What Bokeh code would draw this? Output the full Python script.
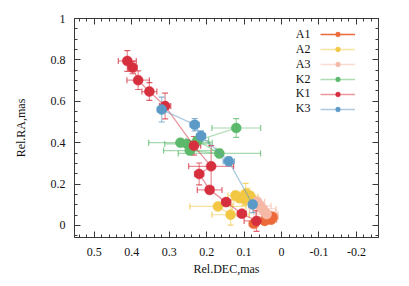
import numpy as np
from bokeh.plotting import figure
from bokeh.models import (ColumnDataSource, Whisker, TeeHead, Range1d, FixedTicker,
                          LinearAxis, Legend, LegendItem, Label, CustomLabelingPolicy)
from bokeh.core.properties import value
from bokeh.embed import file_html
from bokeh.resources import INLINE

# ---------------- data (Rel.DEC, Rel.RA in mas, with errors) ----------------
series_names = ["A1", "A2", "A3", "K2", "K1", "K3"]
series_colors = ["#ec6a3a", "#f2c744", "#f5b9a6", "#5cb96b", "#d6303f", "#5b99c6"]

a1_dec = [0.074, 0.045, 0.038, 0.030, 0.025, 0.033, 0.028]
a1_ra = [0.008, 0.022, 0.030, 0.038, 0.042, 0.045, 0.028]
a1_dec_err = [0.012, 0.020, 0.020, 0.015, 0.015, 0.020, 0.015]
a1_ra_err = [0.010, 0.010, 0.010, 0.010, 0.010, 0.010, 0.010]

a2_dec = [0.170, 0.136, 0.123, 0.112, 0.100, 0.090, 0.083, 0.096]
a2_ra = [0.092, 0.052, 0.145, 0.132, 0.128, 0.150, 0.140, 0.153]
a2_dec_err = [0.075, 0.050, 0.020, 0.020, 0.020, 0.015, 0.020, 0.015]
a2_ra_err = [0.010, 0.050, 0.020, 0.020, 0.030, 0.030, 0.020, 0.050]

a3_dec = [0.065, 0.058, 0.050, 0.045, 0.040]
a3_ra = [0.115, 0.095, 0.080, 0.065, 0.055]
a3_dec_err = [0.020, 0.030, 0.035, 0.030, 0.030]
a3_ra_err = [0.020, 0.020, 0.015, 0.015, 0.010]

k2_dec = [0.270, 0.252, 0.245, 0.166, 0.225, 0.121]
k2_ra = [0.400, 0.394, 0.362, 0.348, 0.410, 0.471]
k2_dec_err = [0.085, 0.060, 0.070, 0.110, 0.030, 0.065]
k2_ra_err = [0.015, 0.015, 0.020, 0.020, 0.020, 0.045]

k1_dec = [0.412, 0.398, 0.383, 0.353, 0.311, 0.234, 0.188, 0.220, 0.192, 0.148, 0.106, 0.067]
k1_ra = [0.795, 0.763, 0.702, 0.647, 0.577, 0.385, 0.286, 0.249, 0.172, 0.113, 0.057, 0.022]
k1_dec_err = [0.024, 0.012, 0.030, 0.020, 0.015, 0.018, 0.060, 0.012, 0.033, 0.012, 0.012, 0.033]
k1_ra_err = [0.050, 0.030, 0.045, 0.043, 0.062, 0.045, 0.100, 0.053, 0.012, 0.012, 0.012, 0.050]

k3_dec = [0.320, 0.232, 0.215, 0.141, 0.077]
k3_ra = [0.560, 0.487, 0.432, 0.310, 0.102]
k3_dec_err = [0.012, 0.012, 0.012, 0.015, 0.010]
k3_ra_err = [0.060, 0.030, 0.025, 0.020, 0.040]

series_data = [
    (a1_dec, a1_ra, a1_dec_err, a1_ra_err),
    (a2_dec, a2_ra, a2_dec_err, a2_ra_err),
    (a3_dec, a3_ra, a3_dec_err, a3_ra_err),
    (k2_dec, k2_ra, k2_dec_err, k2_ra_err),
    (k1_dec, k1_ra, k1_dec_err, k1_ra_err),
    (k3_dec, k3_ra, k3_dec_err, k3_ra_err),
]

x_ticks = [0.5, 0.4, 0.3, 0.2, 0.1, 0, -0.1, -0.2]
x_tick_labels = ["0.5", "0.4", "0.3", "0.2", "0.1", "0", "-0.1", "-0.2"]
y_ticks = [0, 0.2, 0.4, 0.6, 0.8, 1]
y_tick_labels = ["0", "0.2", "0.4", "0.6", "0.8", "1"]

FONT = "Liberation Serif"
AX = "#3a3a3a"

p = figure(width=401, height=278, output_backend="svg", toolbar_location=None,
           x_range=Range1d(0.553, -0.259), y_range=Range1d(-0.058, 1.0),
           min_border_left=74, min_border_right=23, min_border_top=18, min_border_bottom=41,
           x_axis_label="Rel.DEC,mas", y_axis_label="Rel.RA,mas")
p.grid.visible = False
p.outline_line_color = AX
p.background_fill_color = "white"
p.border_fill_color = "white"

x_minor = [round(v, 3) for v in np.arange(-0.26, 0.561, 0.02)]
y_minor = [round(v, 3) for v in np.arange(-0.05, 1.001, 0.05)]
xt = FixedTicker(ticks=x_ticks, minor_ticks=x_minor)
yt = FixedTicker(ticks=y_ticks, minor_ticks=y_minor)

no_labels = CustomLabelingPolicy(code="""
const all = [...indices]
for (const i of all) { indices.unset(i) }
return indices
""")


def style_axis(ax, show_labels):
    ax.axis_line_color = AX
    ax.major_tick_line_color = AX
    ax.minor_tick_line_color = AX
    ax.major_tick_in = 6
    ax.major_tick_out = 0
    ax.minor_tick_in = 3
    ax.minor_tick_out = 0
    ax.major_label_text_font = FONT
    ax.major_label_text_font_size = "12px"
    ax.major_label_text_color = "#111111"
    ax.axis_label_text_font = FONT
    ax.axis_label_text_font_size = "12px"
    ax.axis_label_text_font_style = "normal"
    ax.axis_label_text_color = "#111111"
    if not show_labels:
        ax.major_label_policy = no_labels
        ax.major_label_standoff = 0


xa = p.xaxis[0]
ya = p.yaxis[0]
xa.ticker = xt
ya.ticker = yt
xa.major_label_overrides = {t: l for t, l in zip(x_ticks, x_tick_labels)}
ya.major_label_overrides = {t: l for t, l in zip(y_ticks, y_tick_labels)}
style_axis(xa, True)
style_axis(ya, True)
xa.major_label_standoff = 10
xa.axis_label_standoff = 3
ya.major_label_standoff = 9
ya.axis_label_standoff = 20

top = LinearAxis(ticker=xt)
right = LinearAxis(ticker=yt)
style_axis(top, False)
style_axis(right, False)
p.add_layout(top, "above")
p.add_layout(right, "right")

legend_items = []
for name, col, (dx, ry, dxe, rye) in zip(series_names, series_colors, series_data):
    dx = np.array(dx); ry = np.array(ry); dxe = np.array(dxe); rye = np.array(rye)
    src = ColumnDataSource(dict(x=dx, y=ry, xl=dx - dxe, xh=dx + dxe, yl=ry - rye, yh=ry + rye))
    for dim, base, lo, hi in (("width", "y", "xl", "xh"), ("height", "x", "yl", "yh")):
        w = Whisker(source=src, base=base, lower=lo, upper=hi, dimension=dim,
                    line_color=col, line_alpha=0.55, line_width=1.2, level="underlay",
                    upper_head=TeeHead(size=6, line_color=col, line_alpha=0.75, line_width=1.2),
                    lower_head=TeeHead(size=6, line_color=col, line_alpha=0.75, line_width=1.2))
        p.add_layout(w)
    la = 1.0 if name == "A1" else 0.5
    lr = p.line("x", "y", source=src, line_color=col, line_alpha=la, line_width=1.3)
    sr = p.scatter("x", "y", source=src, size=10, fill_color=col, line_color=col, line_width=0.5)
    legend_items.append(LegendItem(label=value(" "), renderers=[lr, sr]))

# sample glyphs only; the names are drawn to their left as labels (as in the reference)
leg = Legend(items=legend_items, location=(246, 122), padding=0, margin=0, spacing=3,
             glyph_width=35, glyph_height=12, label_height=12, label_width=0, label_standoff=0,
             label_text_font_size="6px", label_text_color=None, label_text_alpha=0,
             border_line_color=None, background_fill_alpha=0)
p.add_layout(leg, "center")

row_y = [203.3, 188.5, 173.7, 159.0, 144.2, 129.4]
for name, yy in zip(series_names, row_y):
    p.add_layout(Label(x=236, y=yy, x_units="screen", y_units="screen", text=name,
                       text_align="right", text_baseline="middle",
                       text_font=FONT, text_font_size="12px", text_color="#111111"))

open("out.html", "w").write(file_html(p, INLINE))
